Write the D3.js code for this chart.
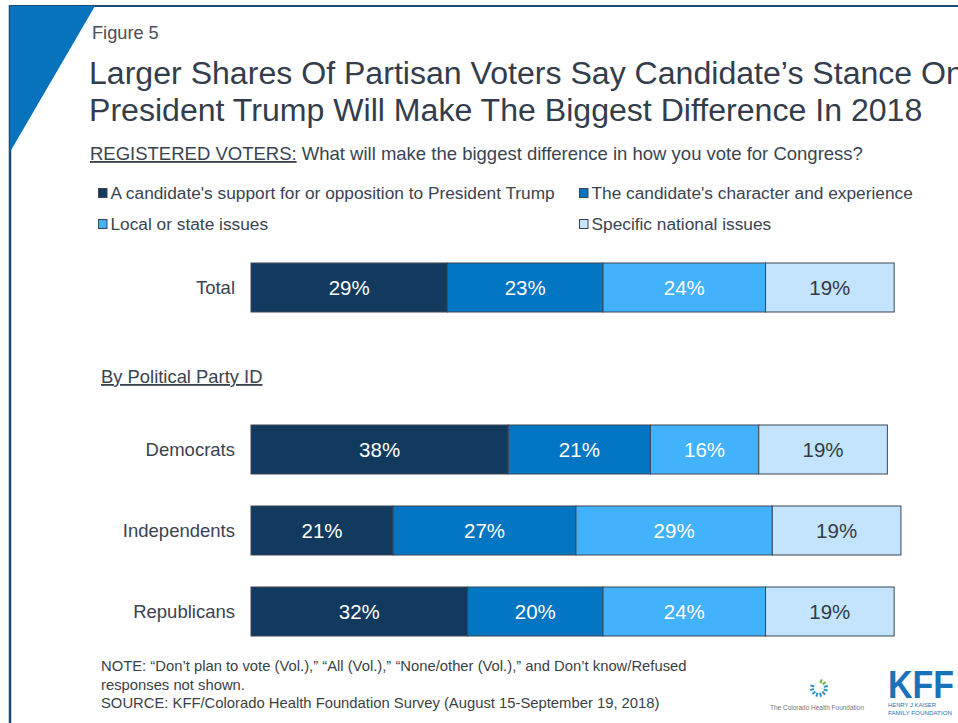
<!DOCTYPE html>
<html>
<head>
<meta charset="utf-8">
<script src="https://cdn.jsdelivr.net/npm/d3@7/dist/d3.min.js"></script>
<style>
  html, body { margin: 0; padding: 0; background: #fff; }
  svg { display: block; }
  text { font-family: "Liberation Sans", Arial, sans-serif; }
</style>
</head>
<body>
<svg id="chart" width="958" height="723"></svg>
<script>
// ---------- data ----------
const categories = ["Total", "Democrats", "Independents", "Republicans"];
const seriesNames = [
  "A candidate's support for or opposition to President Trump",
  "The candidate's character and experience",
  "Local or state issues",
  "Specific national issues"
];
const trumpStance   = [29, 38, 21, 32];
const character     = [23, 21, 27, 20];
const localIssues   = [24, 16, 29, 24];
const nationalIssues= [19, 19, 19, 19];
const seriesColors = ["#113A5E", "#0275C3", "#43B2FD", "#C3E4FC"];
const labelColors  = ["#ffffff", "#ffffff", "#ffffff", "#333a44"];

const titleLines = [
  "Larger Shares Of Partisan Voters Say Candidate\u2019s Stance On",
  "President Trump Will Make The Biggest Difference In 2018"
];
const noteLines = [
  "NOTE: \u201CDon\u2019t plan to vote (Vol.),\u201D \u201CAll (Vol.),\u201D \u201CNone/other (Vol.),\u201D and Don\u2019t know/Refused",
  "responses not shown.",
  "SOURCE: KFF/Colorado Health Foundation Survey (August 15-September 19, 2018)"
];

// ---------- layout ----------
const svg = d3.select("#chart");
const textColor = "#3a4350";

// frame
svg.append("line").attr("x1", 9).attr("x2", 958).attr("y1", 6).attr("y2", 6)
  .attr("stroke", "#1b4b73").attr("stroke-width", 2);
svg.append("line").attr("x1", 10).attr("x2", 10).attr("y1", 5).attr("y2", 723)
  .attr("stroke", "#1b4b73").attr("stroke-width", 2.5);
svg.append("path").attr("d", "M10,6 L95,6 L10,152 Z").attr("fill", "#0873bd");

// headings
svg.append("text").attr("x", 92).attr("y", 39).attr("font-size", 18.2)
  .attr("fill", "#4a4f57").text("Figure 5");
svg.selectAll("text.title").data(titleLines).join("text")
  .attr("class", "title")
  .attr("x", 89).attr("y", (d, i) => 84 + i * 37)
  .attr("font-size", 32.1).attr("fill", "#333d4b")
  .text(d => d);

const sub = svg.append("text").attr("x", 90).attr("y", 160)
  .attr("font-size", 18.5).attr("fill", textColor);
sub.append("tspan").attr("text-decoration", "underline").text("REGISTERED VOTERS:");
sub.append("tspan").text(" What will make the biggest difference in how you vote for Congress?");

// legend
const legendPos = [[98, 193], [579, 193], [98, 224], [579, 224]];
const lg = svg.selectAll("g.legend").data(seriesNames).join("g")
  .attr("class", "legend")
  .attr("transform", (d, i) => `translate(${legendPos[i][0]},${legendPos[i][1]})`);
lg.append("rect").attr("x", 0.5).attr("y", -4.5).attr("width", 8.5).attr("height", 9)
  .attr("fill", (d, i) => seriesColors[i]).attr("stroke", "#3c4450").attr("stroke-width", 1);
lg.append("text").attr("x", 12.5).attr("y", 6).attr("font-size", 17.3)
  .attr("fill", textColor).text(d => d);

// scales
const rows = ["Total", "spacer", "Democrats", "Independents", "Republicans"];
const x = d3.scaleLinear().domain([0, 100]).range([251, 928]);
const y = d3.scaleBand().domain(rows).range([263, 636]).paddingInner(32 / 81).paddingOuter(0);

// section header
svg.append("text").attr("x", 101).attr("y", 383).attr("font-size", 18.4)
  .attr("fill", textColor).attr("text-decoration", "underline").text("By Political Party ID");

// stack
const seriesValues = [trumpStance, character, localIssues, nationalIssues];
const table = categories.map((c, i) => {
  const o = { category: c };
  seriesNames.forEach((s, k) => { o[s] = seriesValues[k][i]; });
  return o;
});
const stacked = d3.stack().keys(seriesNames)(table);

const layers = svg.selectAll("g.layer").data(stacked).join("g").attr("class", "layer");
layers.selectAll("rect").data(d => d).join("rect")
  .attr("x", d => x(d[0]))
  .attr("y", d => y(d.data.category))
  .attr("width", d => x(d[1]) - x(d[0]))
  .attr("height", y.bandwidth())
  .attr("fill", function () { return seriesColors[d3.select(this.parentNode).datum().index]; })
  .attr("stroke", "#3d4654").attr("stroke-width", 1);

layers.each(function (layer) {
  d3.select(this).selectAll("text").data(layer).join("text")
    .attr("x", d => (x(d[0]) + x(d[1])) / 2)
    .attr("y", d => y(d.data.category) + y.bandwidth() / 2 + 7.5)
    .attr("text-anchor", "middle").attr("font-size", 20.5)
    .attr("fill", labelColors[layer.index])
    .text(d => (d[1] - d[0]) + "%");
});

// category labels
svg.selectAll("text.cat").data(categories).join("text")
  .attr("class", "cat")
  .attr("x", 235).attr("y", d => y(d) + y.bandwidth() / 2 + 6.5)
  .attr("text-anchor", "end").attr("font-size", 18.5).attr("fill", textColor)
  .text(d => d);

// notes
svg.selectAll("text.note").data(noteLines).join("text")
  .attr("class", "note")
  .attr("x", 101).attr("y", (d, i) => 671 + i * 18.5)
  .attr("font-size", 14.8).attr("fill", "#3a3f47").text(d => d);

// logos
const chf = svg.append("g").attr("transform", "translate(819,688)");
d3.range(10).forEach(i => {
  const a = (i / 12) * 2 * Math.PI - Math.PI / 2 + 0.3;
  chf.append("line")
    .attr("x1", Math.cos(a) * 5).attr("y1", Math.sin(a) * 5)
    .attr("x2", Math.cos(a) * 9).attr("y2", Math.sin(a) * 9)
    .attr("stroke", i < 2 ? "#6cb44a" : "#2a8fc9").attr("stroke-width", 2);
});
svg.append("text").attr("x", 817).attr("y", 710).attr("text-anchor", "middle")
  .attr("font-size", 7).attr("font-family", "Liberation Serif, serif").attr("fill", "#777")
  .attr("textLength", 94).attr("lengthAdjust", "spacingAndGlyphs")
  .text("The Colorado Health Foundation");
svg.append("text").attr("x", 888).attr("y", 698).attr("font-size", 38)
  .attr("font-weight", "bold").attr("fill", "#1a72b9")
  .attr("textLength", 66).attr("lengthAdjust", "spacingAndGlyphs").text("KFF");
svg.append("text").attr("x", 888).attr("y", 707).attr("font-size", 6).attr("fill", "#1a72b9")
  .attr("textLength", 48).attr("lengthAdjust", "spacingAndGlyphs").text("HENRY J KAISER");
svg.append("text").attr("x", 888).attr("y", 714.5).attr("font-size", 6).attr("fill", "#1a72b9")
  .attr("textLength", 64).attr("lengthAdjust", "spacingAndGlyphs").text("FAMILY FOUNDATION");
</script>
</body>
</html>
